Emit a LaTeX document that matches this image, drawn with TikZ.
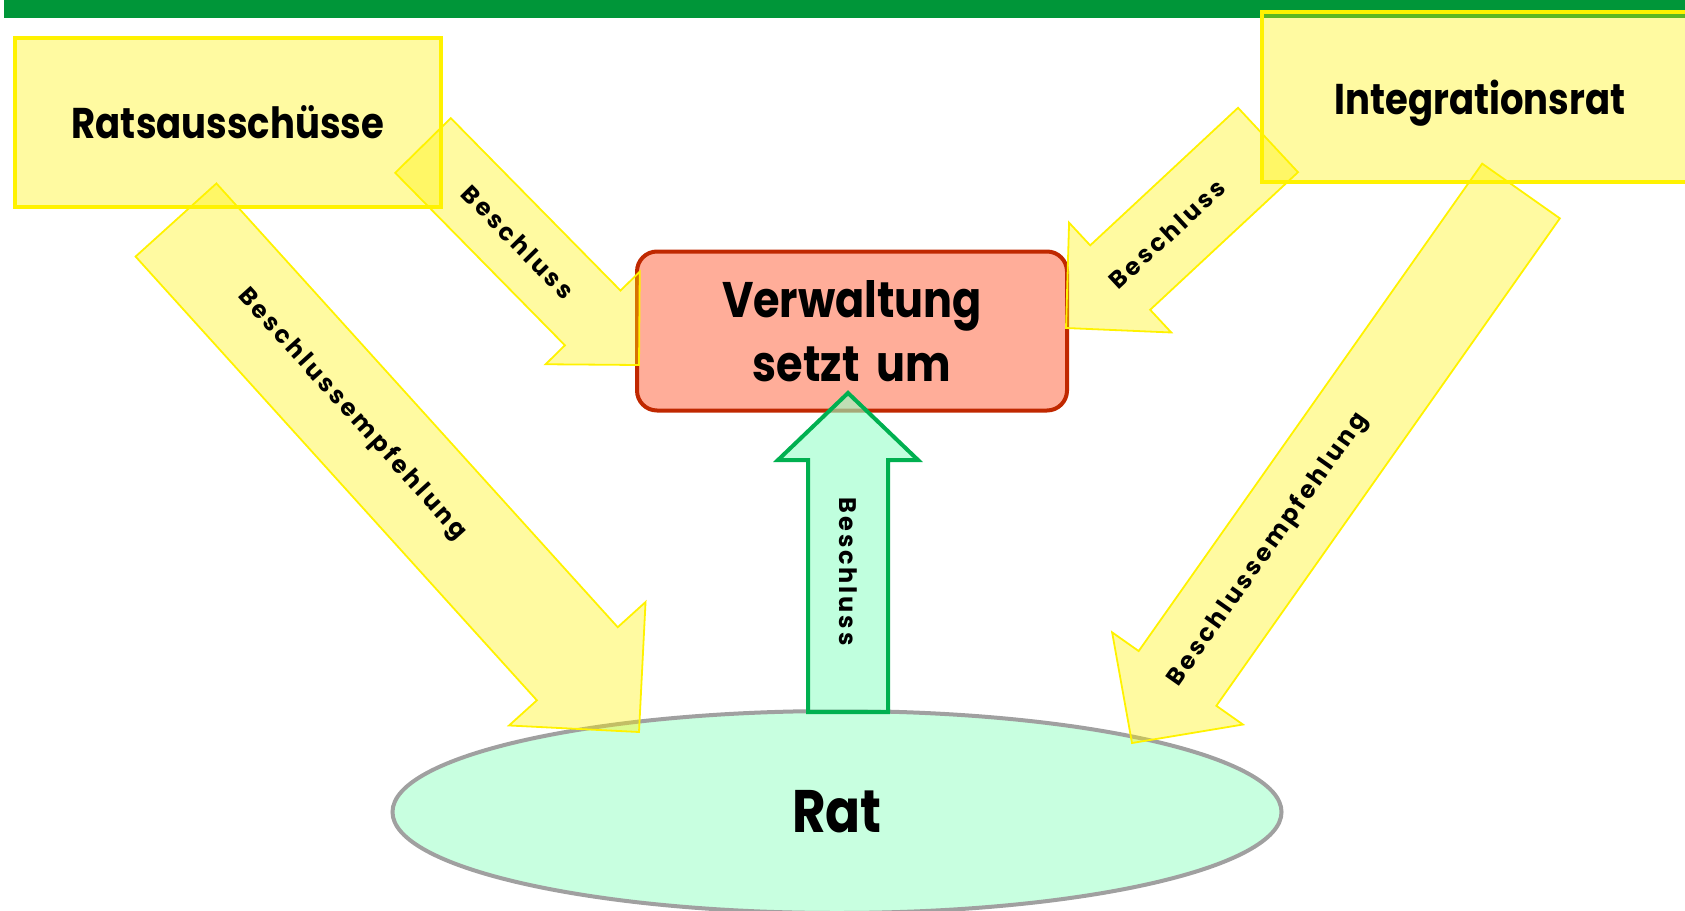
\documentclass[tikz,border=0pt]{standalone}
\usepackage{fontspec}
\newfontfamily\boxfont{Poppins}[FakeStretch=0.86]
\newfontfamily\arrowfont{Poppins}[LetterSpace=12]
\usetikzlibrary{shapes.geometric,calc,positioning}

\definecolor{barGreen}{RGB}{0,150,57}
\definecolor{verwFill}{RGB}{255,173,153}
\definecolor{verwLine}{RGB}{192,40,0}
\definecolor{ratFill}{RGB}{200,255,224}
\definecolor{ratLine}{RGB}{160,160,160}
\definecolor{upLine}{RGB}{0,176,80}
\definecolor{upFill}{RGB}{150,255,200}

\tikzset{
	gremium/.style={rectangle, draw=yellow, line width=4pt, fill=yellow, fill opacity=0.37, text opacity=1, text depth=0pt, font={\boxfont\bfseries\fontsize{43}{50}\selectfont}},
	pfeil/.style={draw=yellow, line width=1.8pt, fill=yellow, fill opacity=0.37},
	pfeiltext/.style={font={\arrowfont\bfseries\fontsize{24}{28}\selectfont}, inner sep=0pt},
}

% \blockarrow[style]{tail}{tip}{half shaft}{half head}{head length}
\newcommand{\blockarrow}[6][]{%
	\coordinate (neck) at ($(#3)!#6!(#2)$);
	\draw[#1] ($(#2)!#4!90:(#3)$) -- ($(neck)!#4!90:(#3)$) -- ($(neck)!#5!90:(#3)$) -- (#3)
		-- ($(neck)!#5!-90:(#3)$) -- ($(neck)!#4!-90:(#3)$) -- ($(#2)!#4!-90:(#3)$) -- cycle;
}

\begin{document}
\begin{tikzpicture}[x=1pt, y=-1pt]
	\useasboundingbox (0,0) rectangle (1685,910);
	\clip (0,0) rectangle (1685,910);
	\fill[barGreen] (4,0) rectangle (1685,18);

	\node[gremium, minimum width=426pt, minimum height=169pt] (ausschuss) at (228,122.5) {Ratsausschüsse};
	\node[gremium, minimum width=436pt, minimum height=170pt] (integration) at (1480,97) {Integrationsrat};
	\node[rectangle, draw=verwLine, line width=4pt, fill=verwFill, rounded corners=20pt, minimum width=430pt, minimum height=159pt, align=center, font={\boxfont\bfseries\fontsize{50}{64}\selectfont}] (verwaltung) at (852,331) {Verwaltung\\setzt\hspace{8pt} um};
	\node[ellipse, draw=ratLine, line width=4pt, fill=ratFill, minimum width=889pt, minimum height=202pt, font={\boxfont\bfseries\fontsize{60}{70}\selectfont}] (rat) at (837,812) {Rat};

	\coordinate (b1-tail) at (423,145.5);
	\coordinate (b1-tip) at (639,365);
	\coordinate (b2-tail) at (1268,140);
	\coordinate (b2-tip) at (1066,328);
	\coordinate (e1-tail) at (176,220);
	\coordinate (e1-tip) at (639,732);
	\coordinate (e2-tail) at (1521,191);
	\coordinate (e2-tip) at (1132,743);
	\coordinate (up-tail) at (848,712);
	\coordinate (up-tip) at (848,393);

	\blockarrow[pfeil]{e1-tail}{e1-tip}{54.5pt}{92pt}{92pt}
	\blockarrow[pfeil]{e2-tail}{e2-tip}{47.5pt}{80pt}{79pt}
	\blockarrow[pfeil]{b1-tail}{b1-tip}{39pt}{66pt}{66pt}
	\blockarrow[pfeil]{b2-tail}{b2-tip}{44pt}{75pt}{74pt}
	\blockarrow[draw=upLine, line width=4pt, fill=upFill, fill opacity=0.6]{up-tail}{up-tip}{40pt}{70pt}{67pt}

	\path (b1-tail) -- (b1-tip) node[pfeiltext, pos=.44, sloped] (b1-text) {Beschluss};
	\path (b2-tail) -- (b2-tip) node[pfeiltext, pos=.5, sloped] (b2-text) {Beschluss};
	\path (e1-tail) -- (e1-tip) node[pfeiltext, pos=.38, sloped] (e1-text) {Beschlussempfehlung};
	\path (e2-tail) -- (e2-tip) node[pfeiltext, pos=.65, sloped] (e2-text) {Beschlussempfehlung};
	\path (up-tail) -- (up-tip) node[pfeiltext, pos=.44, rotate=-90] (up-text) {Beschluss};
\end{tikzpicture}
\end{document}
